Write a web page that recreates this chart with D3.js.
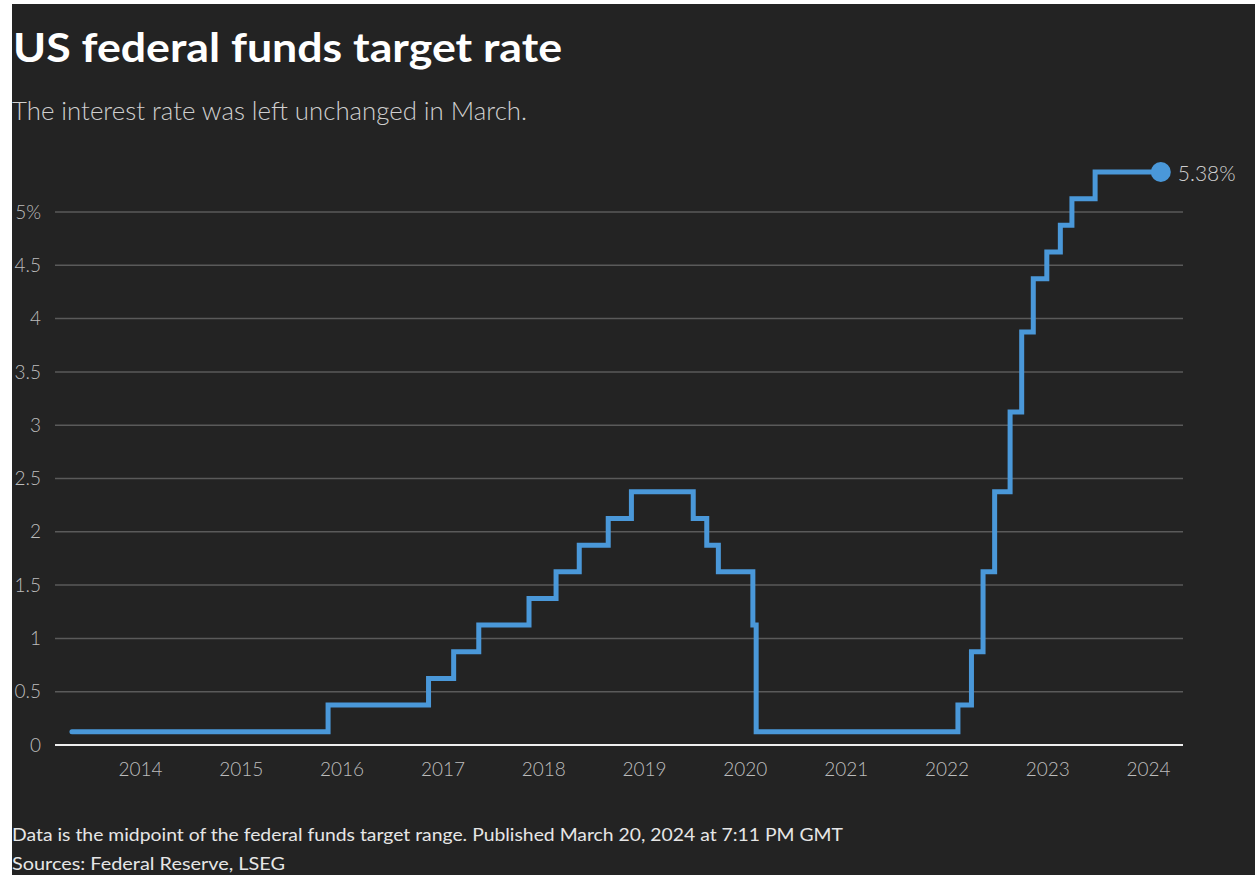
<!DOCTYPE html>
<html>
<head>
<meta charset="utf-8">
<script src="https://cdn.jsdelivr.net/npm/d3@7"></script>
<style>
  html, body { margin: 0; padding: 0; background: #fff; }
  svg { display: block; }
</style>
</head>
<body>
<div id="chart"></div>
<script>
// Fed funds target range midpoint, step changes
var changeDates = ["2013-06-01", "2015-12-16", "2016-12-14", "2017-03-15", "2017-06-14",
    "2017-12-13", "2018-03-21", "2018-06-13", "2018-09-26", "2018-12-19",
    "2019-07-31", "2019-09-18", "2019-10-30", "2020-03-03", "2020-03-15",
    "2022-03-16", "2022-05-04", "2022-06-15", "2022-07-27", "2022-09-21",
    "2022-11-02", "2022-12-14", "2023-02-01", "2023-03-22", "2023-05-03",
    "2023-07-26", "2024-03-20"];
var rates = [0.125, 0.375, 0.625, 0.875, 1.125,
    1.375, 1.625, 1.875, 2.125, 2.375,
    2.125, 1.875, 1.625, 1.125, 0.125,
    0.375, 0.875, 1.625, 2.375, 3.125,
    3.875, 4.375, 4.625, 4.875, 5.125,
    5.375, 5.375];
var yTicks = [0, 0.5, 1, 1.5, 2, 2.5, 3, 3.5, 4, 4.5, 5];
var yTickLabels = ["0", "0.5", "1", "1.5", "2", "2.5", "3", "3.5", "4", "4.5", "5%"];
var xTickYears = [2014, 2015, 2016, 2017, 2018, 2019, 2020, 2021, 2022, 2023, 2024];
var lastLabel = "5.38%";

var title = "US federal funds target rate";
var subtitle = "The interest rate was left unchanged in March.";
var note = "Data is the midpoint of the federal funds target range. Published March 20, 2024 at 7:11 PM GMT";
var source = "Sources: Federal Reserve, LSEG";

var W = 1255, H = 875;
var parse = d3.timeParse("%Y-%m-%d");
var data = changeDates.map(function (d, i) { return { date: parse(d), rate: rates[i] }; });

var x = d3.scaleTime()
    .domain([new Date(2014, 0, 1), new Date(2024, 0, 1)])
    .range([131, 1139]);
var y = d3.scaleLinear()
    .domain([0, 5])
    .range([745, 212]);

var gridLeft = 55, gridRight = 1183;

var svg = d3.select("#chart").append("svg")
    .attr("width", W)
    .attr("height", H);

svg.append("rect")
    .attr("x", 12).attr("y", 4)
    .attr("width", W - 12).attr("height", H - 4)
    .attr("fill", "#232323");

svg.append("text")
    .attr("x", 13).attr("y", 62)
    .attr("fill", "#ffffff")
    .style("font-family", "Lato, sans-serif")
    .style("font-weight", 700)
    .style("font-size", "41px")
    .attr("textLength", 549)
    .attr("lengthAdjust", "spacingAndGlyphs")
    .text(title);

svg.append("text")
    .attr("x", 12).attr("y", 120)
    .attr("fill", "#cfcfcf")
    .style("font-family", "Lato, sans-serif")
    .style("font-weight", 300)
    .style("font-size", "25px")
    .attr("textLength", 515)
    .attr("lengthAdjust", "spacingAndGlyphs")
    .text(subtitle);

// y grid + labels
var yAxis = svg.append("g").attr("class", "y axis");
yAxis.selectAll("line")
    .data(yTicks.filter(function (d) { return d > 0; }))
    .join("line")
    .attr("x1", gridLeft).attr("x2", gridRight)
    .attr("y1", function (d) { return y(d); })
    .attr("y2", function (d) { return y(d); })
    .attr("stroke", "#5a5a5a")
    .attr("stroke-width", 1.5);

yAxis.selectAll("text")
    .data(yTicks)
    .join("text")
    .attr("x", 41)
    .attr("y", function (d) { return y(d); })
    .attr("dy", "0.35em")
    .attr("text-anchor", "end")
    .attr("fill", "#bdbdbd")
    .style("font-family", "Lato, sans-serif")
    .style("font-weight", 300)
    .style("font-size", "19px")
    .text(function (d, i) { return yTickLabels[i]; });

// baseline
svg.append("line")
    .attr("x1", gridLeft).attr("x2", gridRight)
    .attr("y1", y(0)).attr("y2", y(0))
    .attr("stroke", "#eeeeee")
    .attr("stroke-width", 2);

// x axis labels
svg.append("g")
    .attr("class", "x axis")
    .attr("transform", "translate(0," + y(0) + ")")
    .call(d3.axisBottom(x)
        .tickValues(xTickYears.map(function (yr) { return new Date(yr, 0, 1); }))
        .tickFormat(d3.timeFormat("%Y"))
        .tickSize(0)
        .tickPadding(18))
    .call(function (g) { g.select(".domain").remove(); })
    .call(function (g) {
        g.selectAll("text")
            .attr("dx", 9)
            .attr("fill", "#bdbdbd")
            .style("font-family", "Lato, sans-serif")
            .style("font-weight", 300)
            .style("font-size", "19px");
    });

// step line
var line = d3.line()
    .x(function (d) { return x(d.date); })
    .y(function (d) { return y(d.rate); })
    .curve(d3.curveStepAfter);

svg.append("path")
    .datum(data)
    .attr("d", line)
    .attr("fill", "none")
    .attr("stroke", "#4a98d9")
    .attr("stroke-width", 5)
    .attr("stroke-linejoin", "miter")
    .attr("stroke-linecap", "round");

var last = data[data.length - 1];
svg.append("circle")
    .attr("cx", x(last.date))
    .attr("cy", y(last.rate))
    .attr("r", 10)
    .attr("fill", "#4a98d9");

svg.append("text")
    .attr("x", x(last.date) + 17)
    .attr("y", y(last.rate) + 2)
    .attr("dy", "0.35em")
    .attr("fill", "#cfcfcf")
    .style("font-family", "Lato, sans-serif")
    .style("font-weight", 300)
    .style("font-size", "21px")
    .text(lastLabel);

// footer
svg.append("text")
    .attr("x", 12).attr("y", 841)
    .attr("fill", "#e6e6e6")
    .style("font-family", "Lato, sans-serif")
    .style("font-size", "17px")
    .attr("textLength", 831)
    .attr("lengthAdjust", "spacingAndGlyphs")
    .text(note);

svg.append("text")
    .attr("x", 12).attr("y", 870)
    .attr("fill", "#e6e6e6")
    .style("font-family", "Lato, sans-serif")
    .style("font-size", "17px")
    .attr("textLength", 273)
    .attr("lengthAdjust", "spacingAndGlyphs")
    .text(source);
</script>
</body>
</html>
